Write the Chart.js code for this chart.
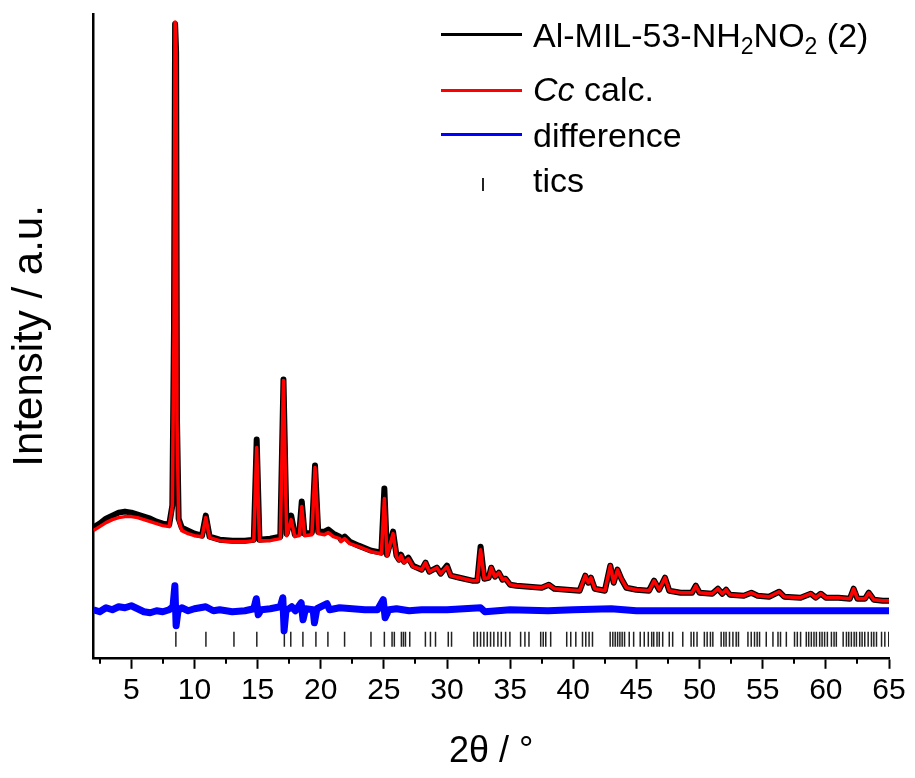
<!DOCTYPE html>
<html>
<head>
<meta charset="utf-8">
<script src="https://cdn.jsdelivr.net/npm/chart.js@4"></script>
<style>
    body { margin: 0; background: #fff; }
    #wrap { position: relative; width: 915px; height: 778px; }
    .leg { position: absolute; font-family: "Liberation Sans", Arial, sans-serif; font-size: 34px; line-height: 34px; color: #000; white-space: nowrap; }
    .leg sub { font-size: 23px; vertical-align: -7px; line-height: 0; }
    .swatch { position: absolute; left: 441px; width: 81px; height: 3px; }
    .tic { position: absolute; left: 482px; top: 178px; width: 1.5px; height: 13px; background: #222; }
</style>
</head>
<body>
<div id="wrap">
    <canvas id="xrdChart"></canvas>
    <div class="swatch" style="top:33px;background:#000"></div>
    <div class="leg" style="left:533px;top:18px">Al-MIL-53-NH<sub>2</sub>NO<sub>2</sub> (2)</div>
    <div class="swatch" style="top:89px;background:#ff0000"></div>
    <div class="leg" style="left:533px;top:72px"><i>Cc</i> calc.</div>
    <div class="swatch" style="top:133px;background:#0000ff"></div>
    <div class="leg" style="left:533px;top:118px">difference</div>
    <div class="tic"></div>
    <div class="leg" style="left:533px;top:163px">tics</div>
</div>
<script>
// 2theta grid shared by observed and calculated patterns
const profileTheta = [
    2.0, 2.5, 3.0, 3.5, 4.0, 4.5, 5.0, 5.5, 6.0, 6.5, 7.0, 7.5, 8.0, 8.25, 8.38, 8.47, 8.55, 8.62, 8.75,
    9.0, 9.5, 10.0, 10.6, 10.9, 11.2, 12.0, 13.0, 14.0, 14.7, 14.93, 15.15, 16.0, 16.8, 17.05, 17.3,
    17.66, 17.95, 18.3, 18.5, 18.72, 19.3, 19.55, 19.8, 20.3, 20.6, 21.0, 21.5, 21.6, 21.9, 22.3,
    23.0, 24.0, 24.8, 25.04, 25.25, 25.73, 26.0, 26.2, 26.36, 26.6, 26.94, 27.3, 28.0, 28.3, 28.6,
    29.2, 29.5, 30.0, 30.3, 31.0, 32.0, 32.4, 32.66, 32.95, 33.3, 33.5, 33.8, 34.1, 34.4, 34.64,
    35.0, 35.5, 36.5, 37.5, 38.06, 38.5, 39.5, 40.5, 40.95, 41.2, 41.4, 41.7, 42.5, 42.93, 43.2,
    43.5, 43.8, 44.2, 45.0, 46.0, 46.4, 46.8, 47.26, 47.6, 48.5, 49.4, 49.7, 50.0, 51.0, 51.45,
    51.8, 52.1, 52.4, 53.5, 54.1, 54.6, 55.5, 56.3, 56.7, 58.0, 58.8, 59.2, 59.6, 60.0, 61.0,
    61.9, 62.2, 62.5, 63.1, 63.4, 63.8, 64.5, 65.0
];

const observed = [
    130, 134, 139, 142, 145, 146, 145, 143, 141, 139, 136, 134, 133, 152, 327, 633, 605, 237, 139,
    130, 127, 124, 122, 142, 121, 118, 117, 117, 118, 218, 118, 119, 121, 278, 124,
    142, 123, 124, 156, 124, 125, 192, 126, 126, 128, 124, 121, 118, 121, 116,
    112, 107, 105, 169, 103, 126, 102, 98, 103, 96, 100, 92, 88, 95, 86,
    90, 84, 92, 82, 80, 77, 77, 111, 79, 80, 90, 81, 85, 78, 79,
    73, 72, 71, 70, 73, 69, 68, 67, 82, 75, 80, 69, 67, 92, 75,
    88, 79, 70, 68, 67, 77, 68, 80, 67, 65, 65, 72, 65, 64, 69,
    64, 68, 63, 62, 65, 62, 61, 66, 61, 60, 64, 60, 64, 60, 60,
    59, 69, 59, 59, 65, 58, 57, 57
];

const calculated = [
    127, 131, 135, 138, 140, 141, 141, 140, 138, 136, 134, 132, 131, 152, 327, 635, 607, 237, 137,
    127, 124, 122, 121, 140, 120, 117, 116, 116, 117, 210, 117, 117, 119, 277, 122,
    138, 121, 122, 151, 122, 123, 190, 124, 123, 125, 121, 119, 116, 119, 114,
    111, 106, 104, 159, 102, 124, 101, 97, 102, 95, 99, 91, 88, 95, 86,
    90, 84, 91, 82, 80, 77, 77, 108, 79, 80, 90, 81, 85, 78, 79,
    73, 72, 71, 70, 73, 69, 68, 67, 82, 75, 80, 69, 67, 92, 75,
    88, 79, 70, 68, 67, 77, 68, 80, 67, 65, 65, 72, 65, 64, 69,
    64, 68, 63, 62, 65, 62, 61, 66, 61, 60, 64, 60, 64, 60, 60,
    59, 69, 59, 59, 65, 58, 57, 57
];

const diffTheta = [
    2.0, 2.5, 3.0, 3.5, 4.0, 4.5, 5.0, 5.5, 6.0, 6.5, 7.0, 7.5, 8.0, 8.3, 8.45, 8.55, 8.7,
    9.0, 9.5, 10.0, 10.9, 11.5, 12.0, 13.0, 14.0, 14.7, 14.9, 15.05, 15.3, 16.0, 16.8, 17.0,
    17.1, 17.25, 17.7, 18.0, 18.45, 18.6, 18.8, 19.4, 19.5, 19.7, 20.5, 20.7, 21.5, 22.5, 23.5,
    24.5, 24.95, 25.1, 25.4, 26.0, 27.0, 28.0, 30.0, 32.66, 33.0, 35.0, 38.0, 40.0, 43.0,
    45.0, 50.0, 55.0, 60.0, 65.0
];

const difference = [
    48, 46, 50, 48, 51, 50, 52, 49, 46, 45, 47, 46, 48, 51, 72, 32, 47,
    50, 47, 49, 51, 47, 48, 46, 47, 49, 59, 43, 48, 49, 51, 60,
    27, 47, 51, 47, 55, 38, 49, 48, 35, 49, 54, 48, 50, 49, 48,
    48, 58, 40, 48, 49, 47, 48, 48, 50, 46, 48, 47, 48, 49,
    47, 47, 47, 47, 47
];

// reflection positions of the Cc cell
const reflections = [
    8.53, 10.91, 13.13, 14.94, 17.12, 17.63, 18.59, 19.62, 20.57, 21.89, 23.98, 25.04, 25.65, 25.83,
    26.39, 26.55, 26.71, 27.05, 28.29, 28.69, 29.09, 30.1, 30.36, 32.13, 32.4, 32.66, 32.92, 33.19,
    33.45, 33.71, 34.03, 34.3, 34.64, 34.98, 35.83, 36.17, 36.49, 37.42, 37.62, 37.82, 38.21, 39.48,
    39.8, 40.2, 40.73, 40.99, 41.25, 41.52, 42.92, 43.13, 43.32, 43.51, 43.69, 43.87, 44.06, 44.43,
    44.78, 45.3, 45.62, 45.94, 46.21, 46.37, 46.63, 46.81, 47.08, 47.6, 47.87, 48.67, 49.33, 49.54,
    49.8, 50.38, 50.6, 50.86, 51.05, 51.71, 51.92, 52.1, 52.37, 52.64, 52.9, 53.08, 53.83, 54.09,
    54.35, 54.56, 54.75, 55.28, 55.81, 56.21, 56.41, 56.87, 57.52, 57.74, 58.0, 58.45, 58.64, 58.85,
    59.06, 59.25, 59.51, 59.7, 59.9, 60.12, 60.44, 60.65, 60.83, 61.37, 61.63, 61.81, 62.02, 62.24,
    62.42, 62.68, 62.87, 63.08, 63.35, 63.61, 63.8, 64.01, 64.41, 64.67, 64.98
];
const ticLevel = 18.5;

const xMin = 2;
const xMax = 65;

const FONT = "'Liberation Sans', Arial, sans-serif";

const toPoints = (xs, ys) => xs.map((x, i) => ({ x: x, y: ys[i] }));

// minor ticks every 2.5 between the labelled ones
const minorTicks = {
    id: 'minorTicks',
    afterDraw(chart) {
        const xs = chart.scales.x;
        const ctx = chart.ctx;
        const bottom = chart.chartArea.bottom;
        ctx.save();
        ctx.strokeStyle = '#000';
        ctx.lineWidth = 2;
        for (let v = 2.5; v < xMax; v += 5) {
            const px = Math.round(xs.getPixelForValue(v));
            ctx.beginPath();
            ctx.moveTo(px, bottom);
            ctx.lineTo(px, bottom + 6);
            ctx.stroke();
        }
        ctx.restore();
    }
};

new Chart(document.getElementById('xrdChart'), {
    type: 'line',
    data: {
        datasets: [
            {
                label: 'Cc calc.',
                data: toPoints(profileTheta, calculated),
                borderColor: '#ff0000',
                borderWidth: 3.5,
                borderJoinStyle: 'round',
                pointRadius: 0,
                tension: 0,
                order: 0
            },
            {
                label: 'Al-MIL-53-NH2NO2 (2)',
                data: toPoints(profileTheta, observed),
                borderColor: '#000000',
                borderWidth: 6,
                borderJoinStyle: 'round',
                pointRadius: 0,
                tension: 0,
                order: 1
            },
            {
                label: 'difference',
                data: toPoints(diffTheta, difference),
                borderColor: '#0000ff',
                borderWidth: 7,
                borderJoinStyle: 'round',
                pointRadius: 0,
                tension: 0,
                order: 2
            },
            {
                label: 'tics',
                data: reflections.map(x => ({ x: x, y: ticLevel })),
                showLine: false,
                pointStyle: 'line',
                rotation: 90,
                pointRadius: 7.5,
                pointBorderWidth: 1.5,
                borderColor: '#222',
                pointBorderColor: '#222',
                order: 3
            }
        ]
    },
    options: {
        responsive: true,
        maintainAspectRatio: false,
        animation: false,
        layout: { padding: { left: 5, top: 14, right: 26, bottom: 4 } },
        scales: {
            x: {
                type: 'linear',
                min: xMin,
                max: xMax,
                border: { display: true, color: '#000', width: 2.5 },
                grid: {
                    display: true,
                    drawOnChartArea: false,
                    drawTicks: true,
                    tickLength: 11,
                    tickWidth: 2,
                    tickColor: '#000'
                },
                ticks: {
                    stepSize: 5,
                    includeBounds: false,
                    color: '#000',
                    padding: 4,
                    maxRotation: 0,
                    font: { family: FONT, size: 30 }
                },
                title: {
                    display: true,
                    text: '2θ / °',
                    color: '#000',
                    padding: { top: 18, bottom: 0 },
                    font: { family: FONT, size: 36 }
                }
            },
            y: {
                min: 0,
                max: 643,
                border: { display: true, color: '#000', width: 2.5 },
                grid: { display: false, drawTicks: false },
                ticks: { display: false },
                title: {
                    display: true,
                    text: 'Intensity / a.u.',
                    color: '#000',
                    padding: { top: 0, bottom: 38 },
                    font: { family: FONT, size: 42 }
                }
            }
        },
        plugins: {
            legend: { display: false },
            tooltip: { enabled: false }
        }
    },
    plugins: [minorTicks]
});
</script>
</body>
</html>
